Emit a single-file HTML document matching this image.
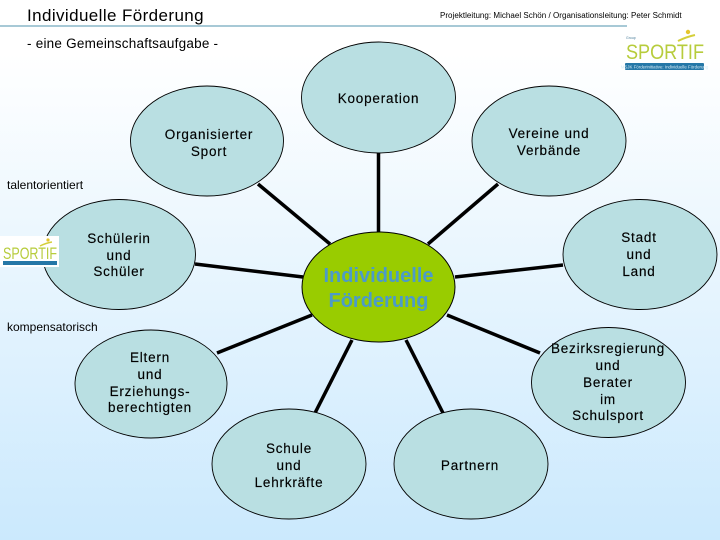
<!DOCTYPE html>
<html><head><meta charset="utf-8"><style>
html,body{margin:0;padding:0;background:#fff}
svg{display:block}
text{font-family:"Liberation Sans",sans-serif;fill:#000}
.n{font-size:13.5px;text-anchor:middle;letter-spacing:.8px;stroke:#000;stroke-width:.15px}
.e{fill:#b9dfe2;stroke:#000;stroke-width:.9}
.l{stroke:#000;stroke-width:3.5;fill:none}
</style></head><body>
<svg width="720" height="540" viewBox="0 0 720 540" xmlns="http://www.w3.org/2000/svg">
<defs><linearGradient id="bg" x1="0" y1="0" x2="0" y2="1"><stop offset="0" stop-color="#ffffff"/><stop offset=".1" stop-color="#ffffff"/><stop offset="1" stop-color="#cbe9fd"/></linearGradient></defs>
<rect width="720" height="540" fill="url(#bg)"/>
<line x1="0" y1="26" x2="627" y2="26" stroke="#4f93ad" stroke-width="1"/>
<text x="27" y="21" font-size="17" letter-spacing=".4">Individuelle Förderung</text>
<text x="440" y="18" font-size="8" letter-spacing=".03">Projektleitung: Michael Schön  / Organisationsleitung: Peter Schmidt</text>
<text x="27" y="48" font-size="13.5" letter-spacing=".23">- eine Gemeinschaftsaufgabe -</text>
<text x="7" y="189" font-size="12" letter-spacing="0">talentorientiert</text>
<text x="7" y="331" font-size="12" letter-spacing="0">kompensatorisch</text>

<line class="l" x1="378.5" y1="153" x2="378.5" y2="232"/>
<line class="l" x1="258" y1="184" x2="330" y2="244"/>
<line class="l" x1="498" y1="184" x2="428" y2="244"/>
<line class="l" x1="195" y1="264" x2="303" y2="277"/>
<line class="l" x1="455" y1="277" x2="563" y2="265"/>
<line class="l" x1="217" y1="353" x2="312" y2="315"/>
<line class="l" x1="447" y1="315" x2="540" y2="353"/>
<line class="l" x1="352" y1="340" x2="315" y2="413"/>
<line class="l" x1="406" y1="340" x2="443" y2="413"/>

<ellipse class="e" cx="378.5" cy="97.5" rx="77" ry="55.5"/>
<ellipse class="e" cx="207" cy="141" rx="76.5" ry="55"/>
<ellipse class="e" cx="549" cy="141" rx="77" ry="55"/>
<ellipse class="e" cx="119" cy="254.5" rx="76.5" ry="55"/>
<ellipse class="e" cx="640" cy="254.5" rx="77" ry="55"/>
<ellipse cx="378.5" cy="287" rx="76.5" ry="55" fill="#99cc00" stroke="#000"/>
<ellipse class="e" cx="151" cy="384" rx="76" ry="54"/>
<ellipse class="e" cx="608.5" cy="382.5" rx="77" ry="55"/>
<ellipse class="e" cx="289" cy="464" rx="77" ry="55"/>
<ellipse class="e" cx="471" cy="464" rx="77" ry="55"/>

<text class="n" x="378.5" y="103">Kooperation</text>
<text class="n" x="209" y="139">Organisierter</text><text class="n" x="209" y="156">Sport</text>
<text class="n" x="549" y="138">Vereine und</text><text class="n" x="549" y="155">Verbände</text>
<text class="n" x="119" y="243">Schülerin</text><text class="n" x="119" y="260">und</text><text class="n" x="119" y="276">Schüler</text>
<text class="n" x="639" y="242">Stadt</text><text class="n" x="639" y="259">und</text><text class="n" x="639" y="276">Land</text>
<text x="378.5" y="282" font-size="20" font-weight="bold" text-anchor="middle" style="fill:#4c9bc8">Individuelle</text>
<text x="378.5" y="307" font-size="20" font-weight="bold" text-anchor="middle" style="fill:#4c9bc8">Förderung</text>
<text class="n" x="150" y="362">Eltern</text><text class="n" x="150" y="379">und</text><text class="n" x="150" y="396">Erziehungs-</text><text class="n" x="150" y="412">berechtigten</text>
<text class="n" x="608" y="353">Bezirksregierung</text><text class="n" x="608" y="370">und</text><text class="n" x="608" y="387">Berater</text><text class="n" x="608" y="404">im</text><text class="n" x="608" y="420">Schulsport</text>
<text class="n" x="289" y="453">Schule</text><text class="n" x="289" y="470">und</text><text class="n" x="289" y="487">Lehrkräfte</text>
<text class="n" x="470" y="470">Partnern</text>

<!-- top logo -->
<text x="626" y="39" font-size="3.5" style="fill:#4c7f9b">Group</text>
<text x="626" y="59" font-size="21" textLength="78" lengthAdjust="spacingAndGlyphs" style="fill:#b7cc3c">SPORTIF</text>
<circle cx="688" cy="32" r="2.2" fill="#e6c62b"/>
<path d="M678 41 Q686 37 695 35" stroke="#d4cf3a" stroke-width="2" fill="none"/>
<rect x="625" y="63" width="79" height="7" rx="1" fill="#2577a7"/>
<text x="664.5" y="68.5" font-size="4.4" text-anchor="middle" style="fill:#d7ecf5">MSJK Förderinitiative: Individuelle Förderung</text>

<!-- left logo -->
<rect x="0" y="236" width="59" height="31" fill="#fff"/>
<text x="3" y="259" font-size="17" textLength="54" lengthAdjust="spacingAndGlyphs" style="fill:#b7cc3c">SPORTIF</text>
<circle cx="48" cy="240" r="1.6" fill="#e6c62b"/>
<path d="M40 246 Q46 243 52 242" stroke="#d4cf3a" stroke-width="1.5" fill="none"/>
<rect x="3" y="261" width="54" height="4" fill="#2577a7"/>
</svg>
</body></html>
